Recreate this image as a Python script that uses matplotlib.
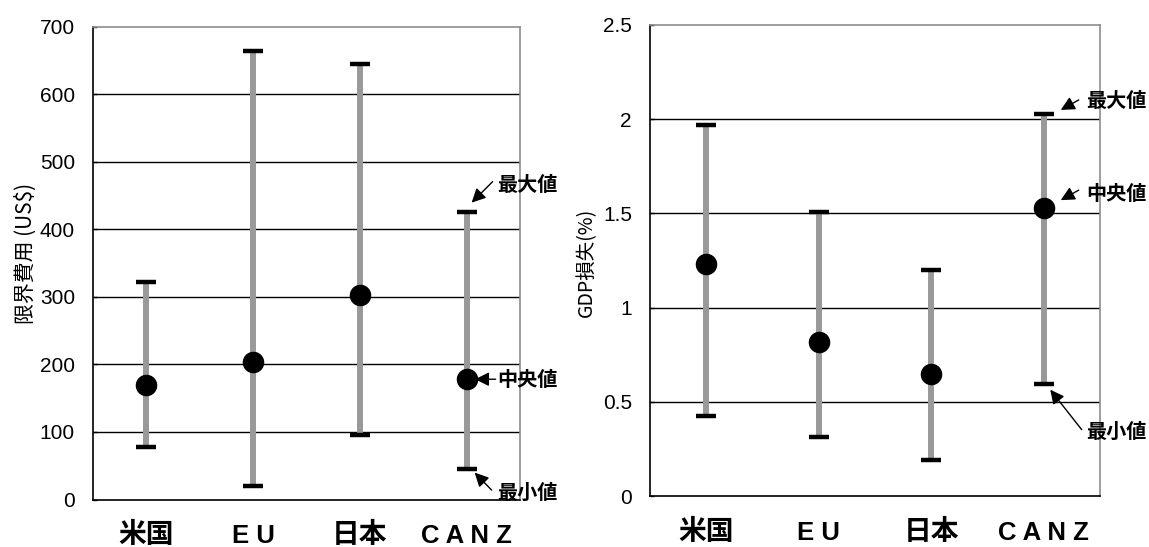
import matplotlib
matplotlib.use("Agg")
import matplotlib.pyplot as plt
from matplotlib.transforms import offset_copy

categories = ["米国", "E U", "日本", "C A N Z"]

cost_max = [322, 664, 645, 426]
cost_med = [170, 204, 303, 178]
cost_min = [77, 20, 96, 45]

gdp_max = [1.967, 1.505, 1.198, 2.028]
gdp_med = [1.23, 0.818, 0.646, 1.528]
gdp_min = [0.424, 0.315, 0.193, 0.596]

cost_ticks = [0, 100, 200, 300, 400, 500, 600, 700]
gdp_ticks = [0, 0.5, 1, 1.5, 2, 2.5]
gdp_ticklabels = ["0", "0.5", "1", "1.5", "2", "2.5"]

CJK = ["Noto Sans CJK JP", "DejaVu Sans"]
LAT = ["Liberation Sans", "DejaVu Sans"]

W, H = 1149, 547
fig = plt.figure(figsize=(W / 100, H / 100), dpi=100)

def px_axes(l, t, r, b):
    return fig.add_axes([l / W, (H - b) / H, (r - l) / W, (b - t) / H])

ax1 = px_axes(93, 26.5, 520, 499.5)
ax2 = px_axes(650, 25, 1100, 496)

def draw(ax, vmax, vmed, vmin, ticks, ticklabels, ylim, ylabel, ylab_size, xpad):
    x = list(range(len(categories)))
    ax.set_xlim(-0.5, len(categories) - 0.5)
    ax.set_ylim(*ylim)
    for t in ticks[1:-1]:
        ax.axhline(t, color="black", lw=1.0, zorder=1)
    ax.vlines(x, vmin, vmax, color="#999999", lw=4.3, zorder=2)
    ax.plot(x, vmax, ls="none", marker="_", ms=15, mew=3.2, color="black", zorder=3)
    ax.plot(x, vmin, ls="none", marker="_", ms=15, mew=3.2, color="black", zorder=3)
    ax.plot(x, vmed, ls="none", marker="o", ms=14.5, color="black", zorder=4)
    for s in ["left", "bottom"]:
        ax.spines[s].set_color("black")
        ax.spines[s].set_linewidth(1.2)
    for s in ["top", "right"]:
        ax.spines[s].set_color("#8c8c8c")
        ax.spines[s].set_linewidth(1.2)
    ax.set_yticks(ticks)
    ax.set_yticklabels(ticklabels, fontfamily=LAT, fontsize=15)
    ax.tick_params(axis="y", direction="in", length=3, width=1, pad=13)
    ax.set_xticks(x)
    ax.set_xticklabels(categories, fontweight="bold")
    for lab, name in zip(ax.get_xticklabels(), categories):
        if name.replace(" ", "").isascii():
            lab.set_fontfamily(LAT)
            lab.set_fontsize(18.5)
        else:
            lab.set_fontfamily(CJK)
            lab.set_fontsize(20)
        lab.set_verticalalignment("baseline")
    ax.tick_params(axis="x", length=0, pad=xpad)
    ax.set_ylabel(ylabel, fontfamily=CJK, fontsize=ylab_size)

draw(ax1, cost_max, cost_med, cost_min, cost_ticks, [str(t) for t in cost_ticks],
     (0, 700), "限界費用 (US$)", 15, 31)
ax1.yaxis.set_label_coords(-0.131, 0.52)
draw(ax2, gdp_max, gdp_med, gdp_min, gdp_ticks, gdp_ticklabels,
     (0, 2.5), "GDP損失(%)", 14, 32)
ax2.yaxis.set_label_coords(-0.118, 0.497)

def note(ax, xi, yv, text, head, tail, txt):
    # offsets in pixels relative to the data point (x right, y up)
    th = offset_copy(ax.transData, fig=fig, x=head[0], y=head[1], units="dots")
    tt = offset_copy(ax.transData, fig=fig, x=tail[0], y=tail[1], units="dots")
    tx = offset_copy(ax.transData, fig=fig, x=txt[0], y=txt[1], units="dots")
    ax.annotate("", xy=(xi, yv), xycoords=th, xytext=(xi, yv), textcoords=tt,
                arrowprops=dict(arrowstyle="-|>,head_length=0.6,head_width=0.3",
                                color="black", lw=1.0,
                                mutation_scale=14, shrinkA=0, shrinkB=0),
                annotation_clip=False)
    ax.text(xi, yv, text, transform=tx, fontfamily=CJK, fontweight="bold",
            fontsize=14.5, ha="left", va="center", clip_on=False)

# left chart annotations (CANZ)
note(ax1, 3, cost_max[3], "最大値", (5, 9), (26, 30), (31, 27))
note(ax1, 3, cost_med[3], "中央値", (8.5, 0), (29, 0), (31, 0))
note(ax1, 3, cost_min[3], "最小値", (8, -3.5), (25, -21), (31, -23))

# right chart annotations (CANZ)
note(ax2, 3, gdp_max[3], "最大値", (17, 4), (35, 14), (42, 13))
note(ax2, 3, gdp_med[3], "中央値", (17, 8), (35, 18), (42, 15))
note(ax2, 3, gdp_min[3], "最小値", (6.5, -6), (38, -46), (42, -48))

fig.savefig("out.png", dpi=100)
